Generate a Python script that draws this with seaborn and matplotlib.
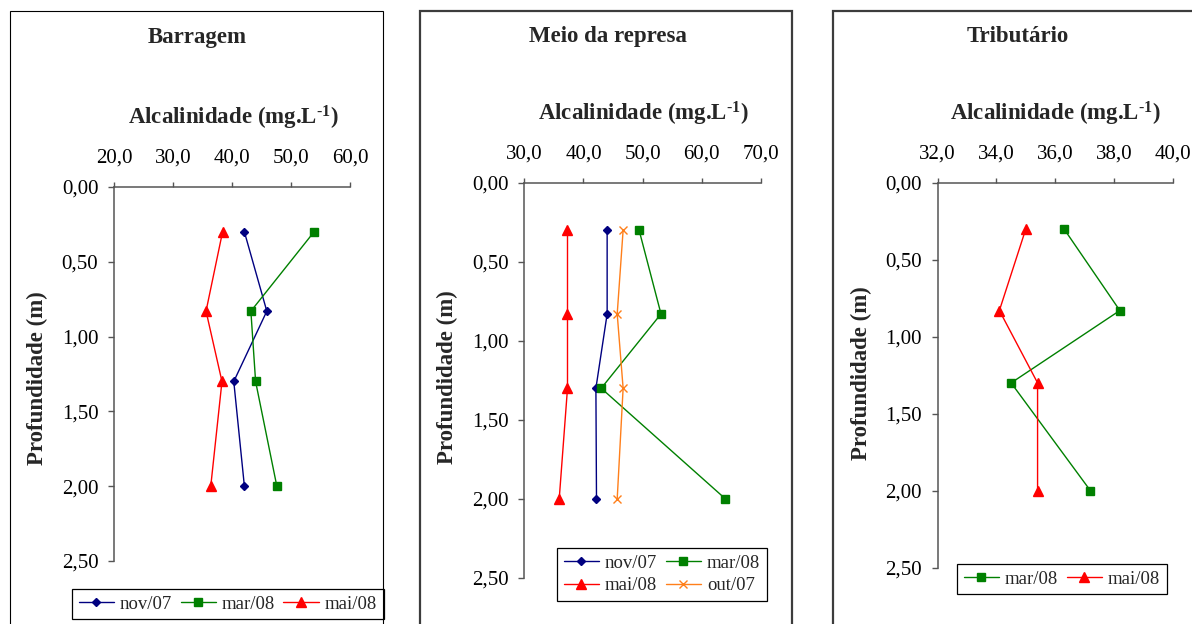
import matplotlib
matplotlib.use("Agg")
import matplotlib.pyplot as plt
import seaborn as sns
import pandas as pd
from matplotlib.patches import Rectangle
from matplotlib.ticker import FuncFormatter, MultipleLocator

sns.set_theme(style="white")
plt.rcParams["font.family"] = ["Liberation Serif", "DejaVu Serif"]
plt.rcParams["mathtext.fontset"] = "custom"
plt.rcParams["mathtext.rm"] = "Liberation Serif"
plt.rcParams["mathtext.it"] = "Liberation Serif:italic"
plt.rcParams["mathtext.bf"] = "Liberation Serif:bold"

# Sampling depths (m)
depths = [0.30, 0.83, 1.30, 2.00]

# Alkalinity (mg/L) per campaign and site
barragem_nov07 = [42.1, 45.9, 40.3, 42.1]
barragem_mar08 = [53.9, 43.2, 44.0, 47.6]
barragem_mai08 = [38.4, 35.6, 38.3, 36.4]

meio_nov07 = [44.0, 44.0, 42.1, 42.2]
meio_mar08 = [49.4, 53.1, 43.0, 64.0]
meio_mai08 = [37.3, 37.3, 37.3, 35.9]
meio_out07 = [46.7, 45.7, 46.7, 45.7]

trib_mar08 = [36.3, 38.2, 34.5, 37.2]
trib_mai08 = [35.0, 34.1, 35.4, 35.4]

site_titles = ["Barragem", "Meio da represa", "Tributário"]
xlabel_text = "Alcalinidade (mg.L$^{\\mathbf{\u20101}}$)"
ylabel_text = "Profundidade (m)"

colors = {"nov/07": "#000080", "mar/08": "#008000", "mai/08": "#FF0000", "out/07": "#FF7F1A"}
markers = {"nov/07": "D", "mar/08": "s", "mai/08": "^", "out/07": "x"}
msizes = {"D": 4.5, "s": 5.4, "^": 6.6, "x": 6.2}


def frame_of(vals):
    return pd.DataFrame({"profundidade": depths, "alcalinidade": vals})


W, H = 1192, 624
fig = plt.figure(figsize=(W / 100, H / 100), dpi=100)
fig.patch.set_facecolor("white")


def fx(x):
    return x / W


def fy(y):
    return 1 - y / H


panels = [
    dict(series={"nov/07": barragem_nov07, "mar/08": barragem_mar08, "mai/08": barragem_mai08},
         rect=(114, 187, 350, 561), xlim=(20, 60), xstep=10,
         title=(197, 42.5), xlab=(233, 125), ylab=(37, 378),
         legend=(72, 589), ncol=3, order=["nov/07", "mar/08", "mai/08"],
         box=(10, 11, 383), box_ec="black", box_lw=0.8),
    dict(series={"nov/07": meio_nov07, "mar/08": meio_mar08, "mai/08": meio_mai08, "out/07": meio_out07},
         rect=(524.3, 182.7, 761, 578), xlim=(30, 70), xstep=10,
         title=(607.5, 41.7), xlab=(643, 120), ylab=(447, 377),
         legend=(557, 548), ncol=2, order=["nov/07", "mai/08", "mar/08", "out/07"],
         box=(419.5, 11, 792), box_ec="#3c3c3c", box_lw=1.6),
    dict(series={"mar/08": trib_mar08, "mai/08": trib_mai08},
         rect=(937.7, 182.7, 1172.7, 567.7), xlim=(32, 40), xstep=2,
         title=(1018, 41.7), xlab=(1055, 120), ylab=(861, 373),
         legend=(957, 564), ncol=2, order=["mar/08", "mai/08"],
         box=(832.5, 11, 1210), box_ec="#3c3c3c", box_lw=1.6),
]

spine_color = "#555555"

for title, p in zip(site_titles, panels):
    l, t, r, b = p["rect"]
    ax = fig.add_axes([fx(l), fy(b), (r - l) / W, (b - t) / H])

    line_by_name = {}
    for name, vals in p["series"].items():
        sns.lineplot(data=frame_of(vals), x="alcalinidade", y="profundidade",
                     color=colors[name], marker=markers[name], sort=False,
                     estimator=None, linewidth=1.0, ax=ax)
        line = ax.lines[-1]
        line.set_markeredgecolor(colors[name])
        line.set_markerfacecolor(colors[name])
        line.set_markeredgewidth(1.0)
        line.set_markersize(msizes[markers[name]])
        line_by_name[name] = line

    ax.set_xlim(*p["xlim"])
    ax.set_ylim(2.5, 0.0)
    ax.xaxis.set_major_locator(MultipleLocator(p["xstep"]))
    ax.yaxis.set_major_locator(MultipleLocator(0.5))
    ax.xaxis.set_major_formatter(FuncFormatter(lambda v, _: f"{v:.1f}".replace(".", ",")))
    ax.yaxis.set_major_formatter(FuncFormatter(lambda v, _: f"{v:.2f}".replace(".", ",")))
    ax.xaxis.tick_top()
    ax.set_facecolor("none")
    for side in ("right", "bottom"):
        ax.spines[side].set_visible(False)
    for side in ("top", "left"):
        ax.spines[side].set_color(spine_color)
        ax.spines[side].set_linewidth(1.1)
    ax.tick_params(axis="x", which="major", top=True, bottom=False, direction="out",
                   length=3.8, width=1.0, color=spine_color, pad=10, labelsize=15,
                   labelcolor="black")
    ax.tick_params(axis="y", which="major", left=True, direction="out",
                   length=4.3, width=1.0, color=spine_color, pad=7, labelsize=15,
                   labelcolor="black")

    ax.set_xlabel(xlabel_text, fontsize=16.5, fontweight="bold")
    ax.xaxis.set_label_position("top")
    ax.xaxis.set_label_coords(fx(p["xlab"][0]), fy(p["xlab"][1]), transform=fig.transFigure)
    ax.xaxis.label.set_va("baseline")
    ax.set_ylabel(ylabel_text, fontsize=16.5, fontweight="bold")
    ax.yaxis.set_label_coords(fx(p["ylab"][0]), fy(p["ylab"][1]), transform=fig.transFigure)
    ax.yaxis.label.set_va("center")
    ax.yaxis.label.set_ha("center")

    fig.text(fx(p["title"][0]), fy(p["title"][1]), title, ha="center", va="baseline",
             fontsize=16.5, fontweight="bold")

    handles = [line_by_name[n] for n in p["order"]]
    leg = ax.legend(handles, p["order"], loc="upper left",
                    bbox_to_anchor=(fx(p["legend"][0]), fy(p["legend"][1])),
                    bbox_transform=fig.transFigure, ncol=p["ncol"], fontsize=13.5,
                    frameon=True, fancybox=False, framealpha=1, edgecolor="black",
                    handlelength=1.9, handletextpad=0.3, columnspacing=0.45,
                    borderpad=0.35, labelspacing=0.3, borderaxespad=0)
    leg.get_frame().set_linewidth(0.9)

    bl, bt, br = p["box"]
    fig.add_artist(Rectangle((fx(bl), fy(640)), (br - bl) / W, (640 - bt) / H,
                             transform=fig.transFigure, fill=False,
                             edgecolor=p["box_ec"], linewidth=p["box_lw"], clip_on=False))

fig.savefig("out.png", dpi=100, facecolor="white")
